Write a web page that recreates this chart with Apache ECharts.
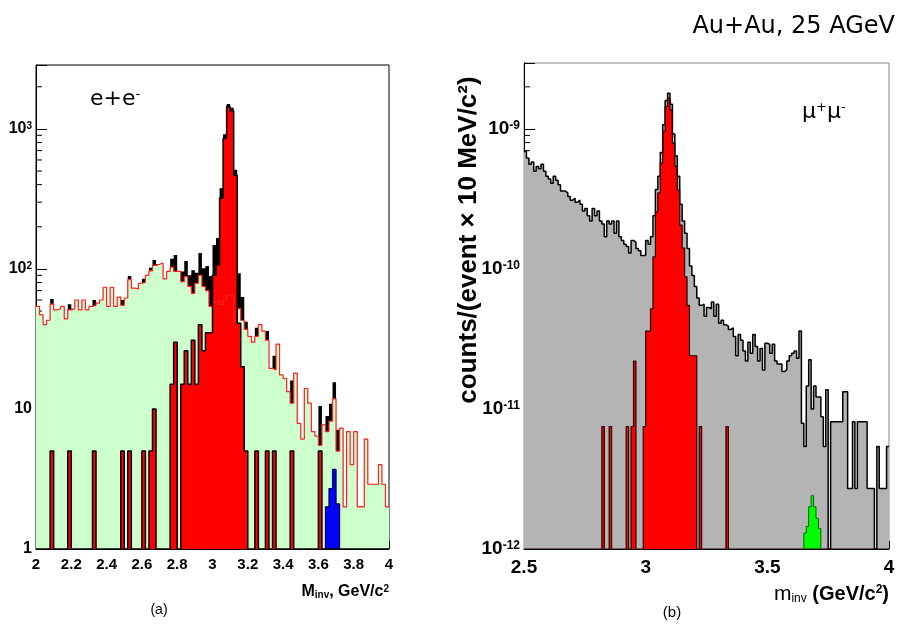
<!DOCTYPE html>
<html><head><meta charset="utf-8">
<script src="https://cdn.jsdelivr.net/npm/echarts@6/dist/echarts.min.js"></script>
<style>html,body{margin:0;padding:0;background:#fff}#c{width:900px;height:633px}</style>
</head><body><div id="c"></div>
<script>
// ---------- panel (a): e+e- , bins of 0.02 GeV/c2 from 2.0 to 4.0 ----------
const eeBinStart = 2.0;
const eeBinWidth = 0.02;
const eeBackground = [
 54,47,40,43,56,51,52,54,44,51, 52,60,51,60,51,54,55,57,60,74,
 54,74,54,63,55,62,84,73,72,79, 80,90,97,106,108,110,85,96,103,96,
 96,81,88,75,67,79,90,75,70,54, 58,59,56,60,65,65,43,52,43,37,
 33,30,33,40,36,31,19.5,19,29,17.5, 16.5,13.3,11,18,7.9,6.1,14,11,6.9,6.4,
 5.5,7.7,6.9,8.2,11.8,5.0,7.3,2.0,6.9,4.0, 6.9,2.0,2.0,6.1,2.9,2.9,2.9,4.0,2.9,2.0];
const eeSignal = [
 0,0,0,0,5,0,0,0,0,5, 0,0,0,0,0,0,5,0,0,0,
 0,0,0,0,5,0,5,0,0,0, 5,0,5,10,0,0,0,0,15,30,
 0,15,26,15,31,15,40,26,35,35, 90,107,321,855,1440,1350,467,41,20,5,
 0,0,5,0,0,5,0,5,0,0, 0,0,5,0,0,0,0,0,0,0,
 5,0,0,0,0,0,0,0,0,0, 0,0,0,0,0,0,0,0,0,0];
const eePsi = [
 0,0,0,0,0,0,0,0,0,0, 0,0,0,0,0,0,0,0,0,0,
 0,0,0,0,0,0,0,0,0,0, 0,0,0,0,0,0,0,0,0,0,
 0,0,0,0,0,0,0,0,0,0, 0,0,0,0,0,0,0,0,0,0,
 0,0,0,0,0,0,0,0,0,0, 0,0,0,0,0,0,0,0,0,0,
 0,0,2.0,2.7,3.7,2.1,0,0,0,0, 0,0,0,0,0,0,0,0,0,0];
const eeXRange = [2, 4];
const eeYRange = [1, 2860];

// ---------- panel (b): mu+mu- , bins of 0.01 GeV/c2 from 2.5 to 4.0, values in units of 1e-12 ----------
const mmUnit = 1e-12;
const mmBinStart = 2.5;
const mmBinWidth = 0.01;
const mmTotal = [
 690,620,560,580,500,540,520,560,500,460, 440,410,460,430,400,360,360,350,330,310,
 320,300,310,290,260,270,240,220,270,240, 260,220,210,170,220,210,220,180,220,170,
 160,150,145,130,160,155,140,135,125,125, 160,150,170,240,370,460,680,1070,1600,1800,
 1500,920,640,460,290,220,180,140,105,90, 75,62,55,56,46,53,52,58,46,56,
 41,43,40,39,37,38,33,24,34,31, 26,22,30,25,34,28,22,27,19,29.5,
 29,25,29,22,21,21,18.5,19,22,24, 25,26,23,36,7.9,5.4,14.6,22.5,10,14.6,
 12.2,12.2,8.8,5.4,13.7,0,8.1,8.1,8.1,8.1, 8.1,13.3,13.3,2.7,2.7,8.1,2.7,8.1,8.1,8.1,
 8.1,2.7,2.7,2.7,0,5.4,2.7,2.7,2.7,5.4];
const mmSignal = [
 0,0,0,0,0,0,0,0,0,0, 0,0,0,0,0,0,0,0,0,0,
 0,0,0,0,0,0,0,0,0,0, 0,0,7.5,0,0,7.5,0,0,0,0,
 0,0,7.5,0,7.5,22,0,0,0,7.5, 36,36,52,122,256,350,570,960,1450,1660,
 1370,790,540,366,206,141,88,55,24,24, 24,0,7.5,0,0,0,0,0,0,0,
 0,0,0,7.5,0,0,0,0,0,0, 0,0,0,0,0,0,0,0,0,0,
 0,0,0,0,0,0,0,0,0,0, 0,0,0,0,0,0,0,0,0,0,
 0,0,0,0,0,0,0,0,0,0, 0,0,0,0,0,0,0,0,0,0,
 0,0,0,0,0,0,0,0,0,0];
const mmPsi = [
 0,0,0,0,0,0,0,0,0,0, 0,0,0,0,0,0,0,0,0,0,
 0,0,0,0,0,0,0,0,0,0, 0,0,0,0,0,0,0,0,0,0,
 0,0,0,0,0,0,0,0,0,0, 0,0,0,0,0,0,0,0,0,0,
 0,0,0,0,0,0,0,0,0,0, 0,0,0,0,0,0,0,0,0,0,
 0,0,0,0,0,0,0,0,0,0, 0,0,0,0,0,0,0,0,0,0,
 0,0,0,0,0,0,0,0,0,0, 0,0,0,0,0,1.3,1.45,2.0,2.4,2.0,
 1.66,1.4,0,0,0,0,0,0,0,0, 0,0,0,0,0,0,0,0,0,0,
 0,0,0,0,0,0,0,0,0,0];
const mmXRange = [2.5, 4];
const mmYRange = [1e-12, 2.96e-9];

// total e+e- histogram (black) = background + J/psi + psi' contributions
const eeTotal = eeBackground.map((b, i) => b + eeSignal[i] + eePsi[i]);

// ---------- helpers ----------
function stepPts(start, width, vals, scale, floor) {
  const pts = [];
  for (let i = 0; i < vals.length; i++) { const v = vals[i] * scale; pts.push([start + i * width, v > 0 ? v : floor]); }
  const last = vals[vals.length - 1] * scale;
  pts.push([start + vals.length * width, last > 0 ? last : floor]);
  return pts;
}
function trimmedPts(start, width, vals, scale, floor) {
  let f = -1, l = -1;
  vals.forEach((v, i) => { if (v > 0) { if (f < 0) f = i; l = i; } });
  const pts = [[start + f * width, floor]];
  for (let i = f; i <= l; i++) pts.push([start + i * width, vals[i] * scale]);
  pts.push([start + (l + 1) * width, vals[l] * scale]);
  pts.push([start + (l + 1) * width, floor]);
  return pts;
}
function minorTicks(x, lo, hi) {
  const out = [];
  for (let e = Math.floor(Math.log10(lo)); e <= Math.ceil(Math.log10(hi)); e++) {
    for (let m = 2; m <= 9; m++) { const v = m * Math.pow(10, e); if (v > lo && v < hi) out.push([x, v]); }
  }
  return out;
}
const tickRender = (params, api) => {
  const p = api.coord([api.value(0), api.value(1)]);
  return { type: 'line', shape: { x1: p[0], y1: p[1], x2: p[0] + 6, y2: p[1] }, style: { stroke: '#000', lineWidth: 1 } };
};
const FONT = 'Liberation Sans';
function powLabel(v, plainSmall) {
  const e = Math.log10(v), r = Math.round(e);
  if (Math.abs(e - r) > 1e-6) return '';
  if (plainSmall && r === 0) return '1';
  if (plainSmall && r === 1) return '10';
  return '{b|10}{s|' + r + '}';
}
const stepLine = { type: 'line', step: 'end', symbol: 'none', showSymbol: false, silent: true };

const chart = echarts.init(document.getElementById('c'));
chart.setOption({
  animation: false,
  backgroundColor: '#fff',
  grid: [
    { left: 36, top: 65, width: 353, height: 484, show: true, borderColor: '#000', borderWidth: 1, backgroundColor: 'transparent' },
    { left: 524, top: 63, width: 365, height: 486, show: true, borderColor: '#888', borderWidth: 1, backgroundColor: 'transparent' }
  ],
  xAxis: [
    { gridIndex: 0, type: 'value', min: eeXRange[0], max: eeXRange[1], interval: 0.2,
      axisLine: { show: true, lineStyle: { color: '#000' } }, axisTick: { inside: true, length: 8, lineStyle: { color: '#000' } },
      splitLine: { show: false },
      axisLabel: { fontFamily: FONT, fontWeight: 'bold', fontSize: 15, color: '#000', margin: 8 } },
    { gridIndex: 1, type: 'value', min: mmXRange[0], max: mmXRange[1], interval: 0.5,
      axisLine: { show: true, lineStyle: { color: '#000' } }, axisTick: { inside: true, length: 8, lineStyle: { color: '#000' } },
      splitLine: { show: false },
      axisLabel: { fontFamily: FONT, fontWeight: 'bold', fontSize: 19, color: '#000', margin: 9 } }
  ],
  yAxis: [
    { gridIndex: 0, type: 'log', logBase: 10, min: eeYRange[0], max: eeYRange[1],
      axisLine: { show: true, lineStyle: { color: '#000' } }, axisTick: { inside: true, length: 11, lineStyle: { color: '#000' } },
      splitLine: { show: false },
      axisLabel: { fontFamily: FONT, fontWeight: 'bold', fontSize: 16, color: '#000', margin: 4,
        formatter: v => powLabel(v, true),
        rich: { b: { fontFamily: FONT, fontWeight: 'bold', fontSize: 16, color: '#000' },
                s: { fontFamily: FONT, fontWeight: 'bold', fontSize: 10, color: '#000', verticalAlign: 'top' } } } },
    { gridIndex: 1, type: 'log', logBase: 10, min: mmYRange[0], max: mmYRange[1],
      axisLine: { show: true, lineStyle: { color: '#000' } }, axisTick: { inside: true, length: 11, lineStyle: { color: '#000' } },
      splitLine: { show: false },
      axisLabel: { fontFamily: FONT, fontWeight: 'bold', fontSize: 19, color: '#000', margin: 4,
        formatter: v => powLabel(v, false),
        rich: { b: { fontFamily: FONT, fontWeight: 'bold', fontSize: 19, color: '#000' },
                s: { fontFamily: FONT, fontWeight: 'bold', fontSize: 12, color: '#000', verticalAlign: 'top' } } } }
  ],
  series: [
    { type: 'custom', xAxisIndex: 0, yAxisIndex: 0, data: minorTicks(eeXRange[0], eeYRange[0], eeYRange[1]), renderItem: tickRender, silent: true },
    Object.assign({}, stepLine, { name: 'total', xAxisIndex: 0, yAxisIndex: 0,
      data: stepPts(eeBinStart, eeBinWidth, eeTotal, 1, eeYRange[0]),
      lineStyle: { width: 0, color: '#000' }, areaStyle: { color: '#000', opacity: 1, origin: 'start' } }),
    Object.assign({}, stepLine, { name: 'background', xAxisIndex: 0, yAxisIndex: 0,
      data: stepPts(eeBinStart, eeBinWidth, eeBackground, 1, eeYRange[0]),
      lineStyle: { color: '#ff2020', width: 1.2 }, areaStyle: { color: '#ccffcc', opacity: 1, origin: 'start' } }),
    Object.assign({}, stepLine, { name: 'J/psi', xAxisIndex: 0, yAxisIndex: 0,
      data: stepPts(eeBinStart, eeBinWidth, eeSignal, 1, eeYRange[0]),
      lineStyle: { color: '#000', width: 1.5 }, areaStyle: { color: '#ff0000', opacity: 1, origin: 'start' } }),
    Object.assign({}, stepLine, { name: "psi'", xAxisIndex: 0, yAxisIndex: 0,
      data: trimmedPts(eeBinStart, eeBinWidth, eePsi, 1, eeYRange[0]),
      lineStyle: { color: '#000044', width: 1.2 }, areaStyle: { color: '#0000ff', opacity: 1, origin: 'start' } }),

    { type: 'custom', xAxisIndex: 1, yAxisIndex: 1, data: minorTicks(mmXRange[0], mmYRange[0], mmYRange[1]), renderItem: tickRender, silent: true },
    Object.assign({}, stepLine, { name: 'mm total', xAxisIndex: 1, yAxisIndex: 1,
      data: stepPts(mmBinStart, mmBinWidth, mmTotal, mmUnit, mmYRange[0]),
      lineStyle: { color: '#000', width: 1.5 }, areaStyle: { color: '#b4b4b4', opacity: 1, origin: 'start' } }),
    Object.assign({}, stepLine, { name: 'mm J/psi', xAxisIndex: 1, yAxisIndex: 1,
      data: stepPts(mmBinStart, mmBinWidth, mmSignal, mmUnit, mmYRange[0]),
      lineStyle: { color: '#220000', width: 1.2 }, areaStyle: { color: '#ff0000', opacity: 1, origin: 'start' } }),
    Object.assign({}, stepLine, { name: "mm psi'", xAxisIndex: 1, yAxisIndex: 1,
      data: trimmedPts(mmBinStart, mmBinWidth, mmPsi, mmUnit, mmYRange[0]),
      lineStyle: { color: '#006600', width: 1 }, areaStyle: { color: '#00ff00', opacity: 1, origin: 'start' } })
  ],
  graphic: [
    { type: 'text', x: 895, y: 27, style: { text: 'Au+Au, 25 AGeV', font: '24px "DejaVu Sans"', fill: '#000', align: 'right', verticalAlign: 'middle' } },
    { type: 'text', x: 90, y: 99, style: { text: '{t|e+e}{s|-}', fill: '#000', align: 'left', verticalAlign: 'middle',
        rich: { t: { fontSize: 22, fontFamily: 'DejaVu Sans', fill: '#000' }, s: { fontSize: 13, fontFamily: 'DejaVu Sans', fill: '#000', verticalAlign: 'top' } } } },
    { type: 'text', x: 802, y: 112, style: { text: '{t|μ}{s|+}{t|μ}{s|-}', fill: '#000', align: 'left', verticalAlign: 'middle',
        rich: { t: { fontSize: 22, fontFamily: 'DejaVu Sans', fill: '#000' }, s: { fontSize: 13, fontFamily: 'DejaVu Sans', fill: '#000', verticalAlign: 'top' } } } },
    { type: 'text', x: 389, y: 592, style: { text: '{m|M}{sub|inv}{m|, GeV/c}{sup|2}', fill: '#000', align: 'right', verticalAlign: 'middle',
        rich: { m: { fontSize: 16, fontWeight: 'bold', fontFamily: FONT, fill: '#000' },
                sub: { fontSize: 10, fontWeight: 'bold', fontFamily: FONT, fill: '#000', verticalAlign: 'bottom' },
                sup: { fontSize: 10, fontWeight: 'bold', fontFamily: FONT, fill: '#000', verticalAlign: 'top' } } } },
    { type: 'text', x: 889, y: 594, style: { text: '{m|m}{sub|inv}{b| (GeV/c}{sup|2}{b|)}', fill: '#000', align: 'right', verticalAlign: 'middle',
        rich: { m: { fontSize: 21, fontFamily: FONT, fill: '#000' },
                b: { fontSize: 20, fontWeight: 'bold', fontFamily: FONT, fill: '#000' },
                sub: { fontSize: 12, fontFamily: FONT, fill: '#000', verticalAlign: 'bottom' },
                sup: { fontSize: 12, fontWeight: 'bold', fontFamily: FONT, fill: '#000', verticalAlign: 'top' } } } },
    { type: 'text', x: 469, y: 240, rotation: Math.PI / 2, style: { text: 'counts/(event × 10 MeV/c²)', font: 'bold 26px "Liberation Sans"', fill: '#000', align: 'center', verticalAlign: 'middle' } },
    { type: 'text', x: 159, y: 610, style: { text: '(a)', font: '14px "Liberation Sans"', fill: '#000', align: 'center', verticalAlign: 'middle' } },
    { type: 'text', x: 672, y: 613, style: { text: '(b)', font: '15px "Liberation Sans"', fill: '#000', align: 'center', verticalAlign: 'middle' } }
  ]
});
</script>
</body></html>
